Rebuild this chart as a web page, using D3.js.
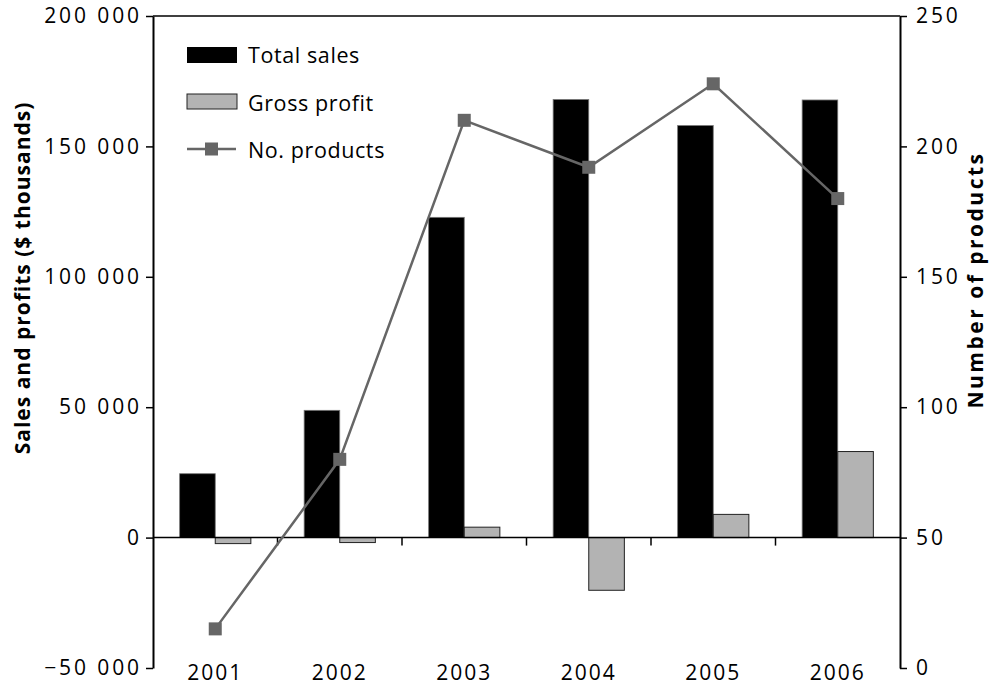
<!DOCTYPE html>
<html><head><meta charset="utf-8">
<script src="https://cdn.jsdelivr.net/npm/d3@7"></script>
<style>
body{margin:0;background:#fff;}
svg{display:block;font-family:"Open Sans",sans-serif;}
</style></head>
<body><svg id="c" width="996" height="686"></svg>
<script>
const years = ["2001","2002","2003","2004","2005","2006"];
const totalSales = [24500, 48800, 122800, 168000, 158000, 167800];
const grossProfit = [-2300, -1900, 4000, -20200, 8900, 33000];
const numProducts = [15, 80, 210, 192, 224, 180];
const leftTicks = [-50000, 0, 50000, 100000, 150000, 200000];
const rightTicks = [0, 50, 100, 150, 200, 250];
const seriesNames = ["Total sales", "Gross profit", "No. products"];

const svg = d3.select("#c");
const L = 153, R = 900, T = 16, B = 668;
const x = d3.scaleBand().domain(years).range([L, R]);
const yL = d3.scaleLinear().domain([-50000, 200000]).range([B, T]);
const yR = d3.scaleLinear().domain([0, 250]).range([B, T]);
const bw = x.bandwidth() * 0.286;
const fmt = v => (v < 0 ? "\u2212" : "") + d3.format(",")(Math.abs(v)).replace(/,/g, " ");

// bars
const g = svg.append("g");
g.selectAll(".sales").data(years).join("rect")
  .attr("x", d => x(d) + x.bandwidth()/2 - bw)
  .attr("width", bw)
  .attr("y", (d,i) => yL(Math.max(0,totalSales[i])))
  .attr("height", (d,i) => Math.abs(yL(totalSales[i]) - yL(0)))
  .attr("fill", "#000").attr("stroke", "#777").attr("stroke-width", 0.8);
g.selectAll(".gp").data(years).join("rect")
  .attr("x", d => x(d) + x.bandwidth()/2)
  .attr("width", bw)
  .attr("y", (d,i) => yL(Math.max(0,grossProfit[i])))
  .attr("height", (d,i) => Math.abs(yL(grossProfit[i]) - yL(0)))
  .attr("fill", "#b3b3b3").attr("stroke", "#222").attr("stroke-width", 1);

// left axis
const axL = svg.append("g").attr("transform", `translate(${L},0)`)
  .call(d3.axisLeft(yL).tickValues(leftTicks).tickFormat(fmt).tickSize(7).tickSizeOuter(0));
// right axis
const axR = svg.append("g").attr("transform", `translate(${R},0)`)
  .call(d3.axisRight(yR).tickValues(rightTicks).tickSize(7).tickSizeOuter(0));
[axL, axR].forEach(a => {
  a.select(".domain").attr("stroke", "#000").attr("stroke-width", 2);
  a.selectAll(".tick line").attr("stroke", "#000").attr("stroke-width", 1.5);
  a.selectAll("text").attr("font-size", 21).attr("fill", "#000")
    .attr("font-family", "Open Sans").attr("letter-spacing", 2.9);
});
axL.selectAll("text").attr("x", -11);
axR.selectAll("text").attr("x", 16);

// top border
svg.append("line").attr("x1", L).attr("x2", R).attr("y1", T).attr("y2", T)
  .attr("stroke", "#000").attr("stroke-width", 1.5);

// zero line with category ticks
svg.append("line").attr("x1", L).attr("x2", R).attr("y1", yL(0)).attr("y2", yL(0))
  .attr("stroke", "#000").attr("stroke-width", 1.5);
svg.selectAll(".xt").data(years.slice(1)).join("line")
  .attr("x1", d => x(d)).attr("x2", d => x(d))
  .attr("y1", yL(0)).attr("y2", yL(0) + 8)
  .attr("stroke", "#000").attr("stroke-width", 1.5);
svg.selectAll(".xl").data(years).join("text")
  .attr("x", d => x(d) + x.bandwidth()/2).attr("y", 680)
  .attr("text-anchor", "middle").attr("font-size", 21).attr("letter-spacing", 2)
  .text(d => d);

// products line
const line = d3.line().x((d,i) => x(years[i]) + x.bandwidth()/2).y(d => yR(d));
svg.append("path").datum(numProducts).attr("d", line)
  .attr("fill", "none").attr("stroke", "#666").attr("stroke-width", 2.5);
const ms = 13;
svg.selectAll(".mk").data(numProducts).join("rect")
  .attr("x", (d,i) => x(years[i]) + x.bandwidth()/2 - ms/2)
  .attr("y", d => yR(d) - ms/2).attr("width", ms).attr("height", ms).attr("fill", "#666");

// axis titles
svg.append("text").attr("transform", `translate(30,278) rotate(-90)`)
  .attr("text-anchor", "middle").attr("font-size", 21).attr("font-weight", "bold")
  .attr("letter-spacing", 1)
  .text("Sales and profits ($ thousands)");
svg.append("text").attr("transform", `translate(983,280) rotate(-90)`)
  .attr("text-anchor", "middle").attr("font-size", 21).attr("font-weight", "bold")
  .attr("letter-spacing", 2.5)
  .text("Number of products");

// legend
const lg = svg.append("g");
lg.append("rect").attr("x", 187).attr("y", 47).attr("width", 50).attr("height", 16).attr("fill", "#000");
lg.append("rect").attr("x", 187).attr("y", 94).attr("width", 50).attr("height", 15)
  .attr("fill", "#b3b3b3").attr("stroke", "#222").attr("stroke-width", 1);
lg.append("line").attr("x1", 187).attr("x2", 236).attr("y1", 149).attr("y2", 149)
  .attr("stroke", "#666").attr("stroke-width", 2.5);
lg.append("rect").attr("x", 211.5 - ms/2).attr("y", 149 - ms/2).attr("width", ms).attr("height", ms).attr("fill", "#666");
lg.selectAll(".lt").data(seriesNames).join("text")
  .attr("x", 248).attr("y", (d,i) => 63 + i*47.5).attr("font-size", 21.5)
  .attr("letter-spacing", 0.6).text(d => d);
</script></body></html>
